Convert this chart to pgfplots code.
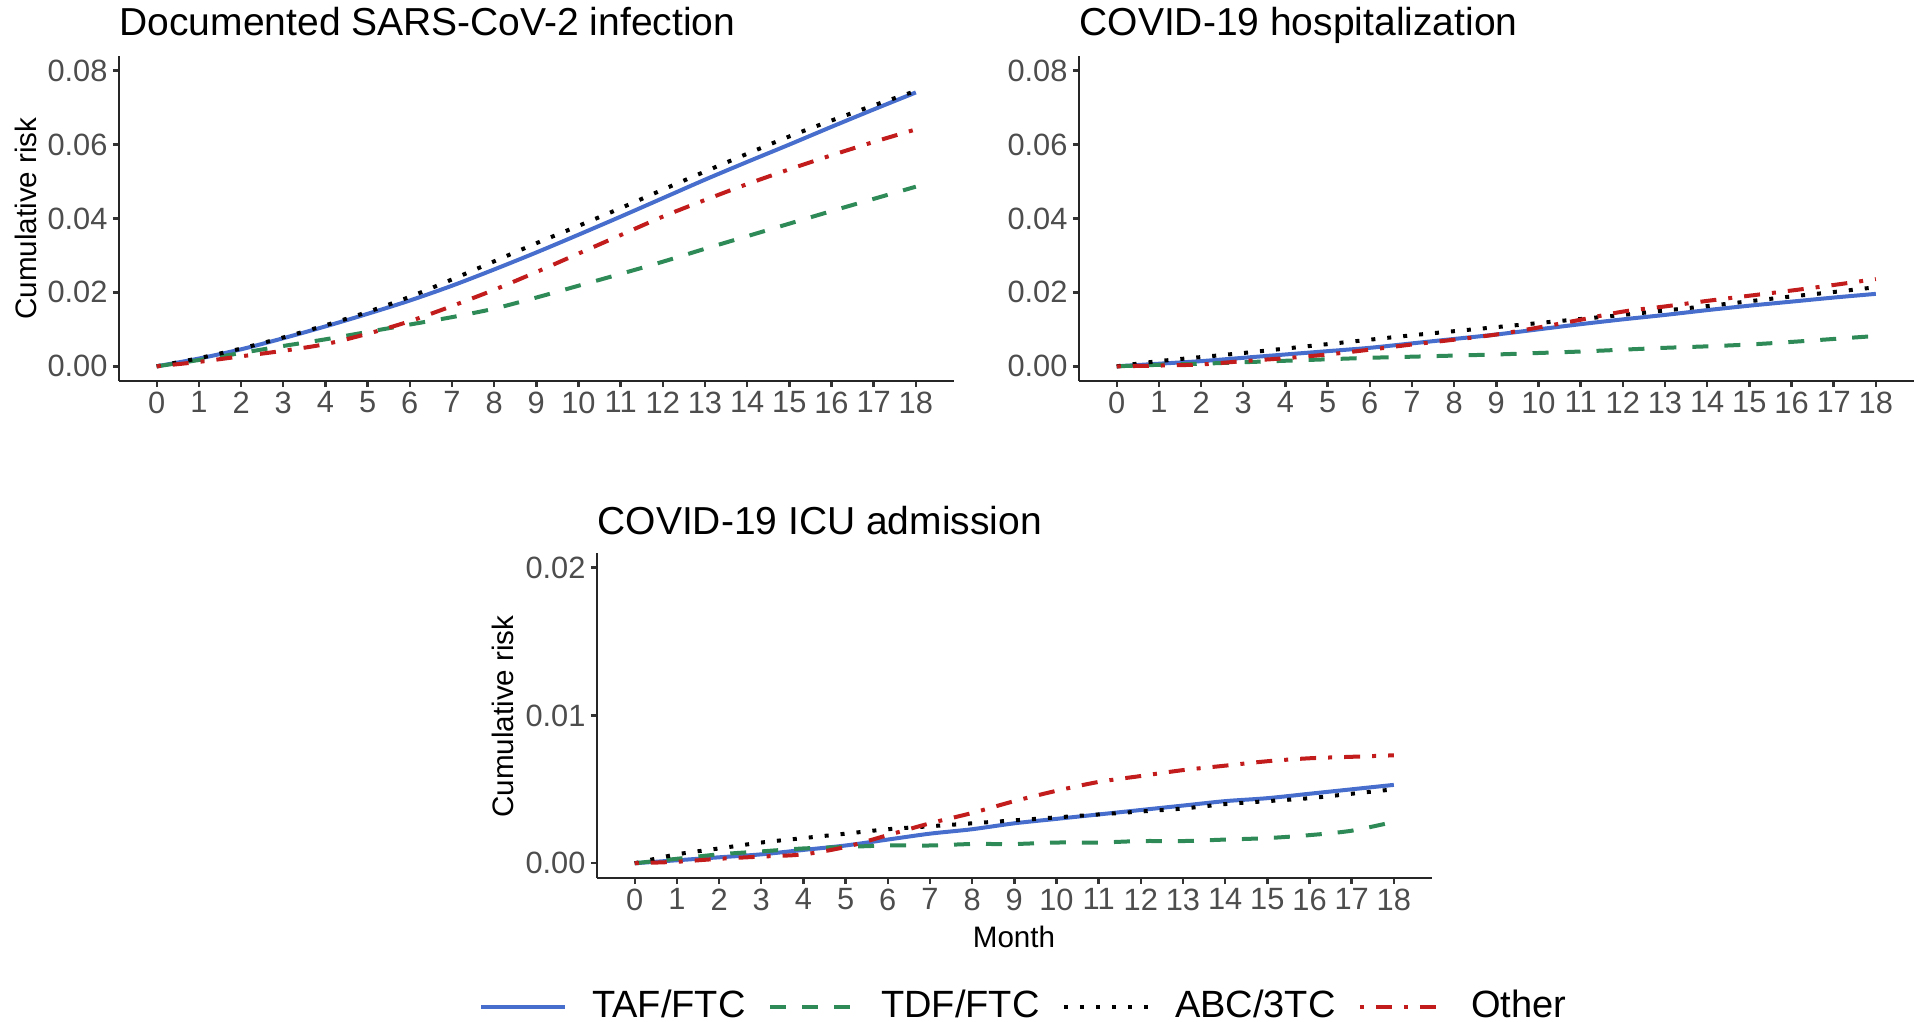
\documentclass[border=0pt]{standalone}
\usepackage{fontspec}
\setmainfont{Liberation Sans}
\usepackage{pgfplots}
\usepackage{pgfplotstable}
\pgfplotsset{compat=1.18}

\definecolor{cBlue}{RGB}{72,110,205}
\definecolor{cGreen}{RGB}{46,139,87}
\definecolor{cRed}{RGB}{195,28,28}
\definecolor{tickgray}{RGB}{77,77,77}

% ggplot-like line types, lwd = 1pt
\tikzset{
  sTAF/.style={cBlue, line width=1pt, solid},
  sTDF/.style={cGreen, line width=1pt, dash pattern=on 4pt off 4pt},
  sABC/.style={black, line width=1pt, dash pattern=on 1pt off 3pt},
  sOTH/.style={cRed, line width=1pt, dash pattern=on 1pt off 3pt on 4pt off 3pt},
}

\pgfplotsset{
  panel/.style={
    scale only axis, width=208.75pt, height=81.3pt,
    axis lines=left, axis line style={-, line width=0.6pt, black!85},
    xmin=-0.9, xmax=18.9, xtick={0,...,18},
    tick align=outside, major tick length=1.5pt,
    tick style={line width=0.6pt, black!80},
    ticklabel style={font=\fontsize{7.7}{8.5}\selectfont, text=tickgray},
    xticklabel style={yshift=2.4pt},
    yticklabel style={xshift=2.2pt},
    /pgf/number format/assume math mode=true,
    scaled y ticks=false,
  }
}

% cumulative risk by month: TAF/FTC, TDF/FTC, ABC/3TC, Other
\pgfplotstableread{
m  taf    tdf    abc    oth
0  0      0      0      0
1  0.0021 0.0017 0.0022 0.0012
2  0.0046 0.0036 0.0048 0.0027
3  0.0076 0.0055 0.0078 0.0042
4  0.0108 0.0073 0.0111 0.0060
5  0.0142 0.0093 0.0147 0.0088
6  0.0178 0.0113 0.0188 0.0122
7  0.0218 0.0133 0.0235 0.0163
8  0.0262 0.0156 0.0284 0.0207
9  0.0308 0.0186 0.0333 0.0255
10 0.0356 0.0218 0.0380 0.0305
11 0.0405 0.0250 0.0428 0.0355
12 0.0455 0.0283 0.0478 0.0405
13 0.0505 0.0318 0.0527 0.0450
14 0.0553 0.0352 0.0575 0.0493
15 0.0600 0.0386 0.0622 0.0533
16 0.0648 0.0420 0.0665 0.0571
17 0.0695 0.0453 0.0706 0.0607
18 0.0741 0.0486 0.0745 0.0641
}\infection

\pgfplotstableread{
m  taf    tdf    abc    oth
0  0      0      0      0
1  0.0007 0.0004 0.0014 0.0002
2  0.0014 0.0007 0.0025 0.0005
3  0.0023 0.0011 0.0036 0.0014
4  0.0032 0.0015 0.0048 0.0022
5  0.0041 0.0019 0.0060 0.0032
6  0.0050 0.0023 0.0072 0.0045
7  0.0062 0.0026 0.0084 0.0059
8  0.0074 0.0029 0.0095 0.0072
9  0.0086 0.0032 0.0106 0.0086
10 0.0100 0.0036 0.0117 0.0105
11 0.0114 0.0040 0.0128 0.0126
12 0.0127 0.0045 0.0139 0.0148
13 0.0139 0.0050 0.0151 0.0162
14 0.0152 0.0054 0.0163 0.0177
15 0.0164 0.0059 0.0176 0.0191
16 0.0175 0.0066 0.0189 0.0205
17 0.0186 0.0074 0.0201 0.0220
18 0.0196 0.0082 0.0214 0.0236
}\hosp

\pgfplotstableread{
m  taf     tdf     abc     oth
0  0       0       0       0
1  0.0002  0.0003  0.0006  0.0001
2  0.0004  0.0006  0.0010  0.0003
3  0.0006  0.0008  0.0014  0.00045
4  0.0009  0.0010  0.0017  0.0006
5  0.0012  0.0011  0.0020  0.0011
6  0.0016  0.0012  0.0023  0.0019
7  0.0020  0.0012  0.0025  0.0027
8  0.0023  0.0013  0.0027  0.0034
9  0.0027  0.0013  0.0029  0.0042
10 0.0030  0.0014  0.0031  0.0049
11 0.0033  0.0014  0.0033  0.0055
12 0.0036  0.0015  0.0035  0.0059
13 0.0039  0.0015  0.0037  0.0063
14 0.0042  0.0016  0.0040  0.0066
15 0.0044  0.0017  0.0042  0.0069
16 0.0047  0.0019  0.0044  0.0071
17 0.0050  0.0022  0.0047  0.0072
18 0.0053  0.0028  0.0050  0.0073
}\icu

\begin{document}
\begin{tikzpicture}
\useasboundingbox (0,0) rectangle (480pt,255.25pt);

% panel 1
\begin{axis}[panel, at={(29.7pt,159.98pt)}, anchor=south west,
  ymin=-0.004, ymax=0.084,
  ytick={0,0.02,0.04,0.06,0.08},
  yticklabels={0.00,0.02,0.04,0.06,0.08}]
\addplot[sTAF, smooth] table[x=m, y=taf]{\infection};
\addplot[sTDF, smooth] table[x=m, y=tdf]{\infection};
\addplot[sABC, smooth] table[x=m, y=abc]{\infection};
\addplot[sOTH, smooth] table[x=m, y=oth]{\infection};
\end{axis}

% panel 2
\begin{axis}[panel, at={(269.7pt,159.98pt)}, anchor=south west,
  ymin=-0.004, ymax=0.084,
  ytick={0,0.02,0.04,0.06,0.08},
  yticklabels={0.00,0.02,0.04,0.06,0.08}]
\addplot[sTAF, smooth] table[x=m, y=taf]{\hosp};
\addplot[sTDF, smooth] table[x=m, y=tdf]{\hosp};
\addplot[sABC, smooth] table[x=m, y=abc]{\hosp};
\addplot[sOTH, smooth] table[x=m, y=oth]{\hosp};
\end{axis}

% panel 3 with legend
\begin{axis}[panel, at={(149.2pt,35.75pt)}, anchor=south west,
  ymin=-0.001, ymax=0.021,
  ytick={0,0.01,0.02},
  yticklabels={0.00,0.01,0.02},
  legend columns=4,
  legend style={draw=none, fill=none, inner sep=0pt,
    font=\fontsize{9.5}{11}\selectfont,
    at={(-0.142,-0.397)}, anchor=west,
    /tikz/every odd column/.append style={column sep=4.3pt},
    /tikz/every even column/.append style={column sep=3.6pt}},
  legend image code/.code={\draw[#1] (0pt,0pt) -- (21pt,0pt);}]
\addplot[sTAF, smooth] table[x=m, y=taf]{\icu};
\addlegendentry{TAF/FTC}
\addplot[sTDF, smooth] table[x=m, y=tdf]{\icu};
\addlegendentry{TDF/FTC}
\addplot[sABC, smooth] table[x=m, y=abc]{\icu};
\addlegendentry{ABC/3TC}
\addplot[sOTH, smooth] table[x=m, y=oth]{\icu};
\addlegendentry{Other}
\end{axis}

% titles and axis labels
\node[anchor=base west, inner sep=0pt, font=\fontsize{9.75}{11}\selectfont]
  at (29.7pt,246.5pt) {Documented SARS-CoV-2 infection};
\node[anchor=base west, inner sep=0pt, font=\fontsize{9.75}{11}\selectfont]
  at (269.7pt,246.5pt) {COVID-19 hospitalization};
\node[anchor=base west, inner sep=0pt, font=\fontsize{9.75}{11}\selectfont]
  at (149.2pt,121.75pt) {COVID-19 ICU admission};
\node[rotate=90, inner sep=0pt, font=\fontsize{7.4}{8.5}\selectfont]
  at (6.5pt,200.6pt) {Cumulative risk};
\node[rotate=90, inner sep=0pt, font=\fontsize{7.4}{8.5}\selectfont]
  at (125.7pt,76.1pt) {Cumulative risk};
\node[anchor=base, inner sep=0pt, font=\fontsize{7.4}{8.5}\selectfont]
  at (253.5pt,18.5pt) {Month};
\end{tikzpicture}
\end{document}
